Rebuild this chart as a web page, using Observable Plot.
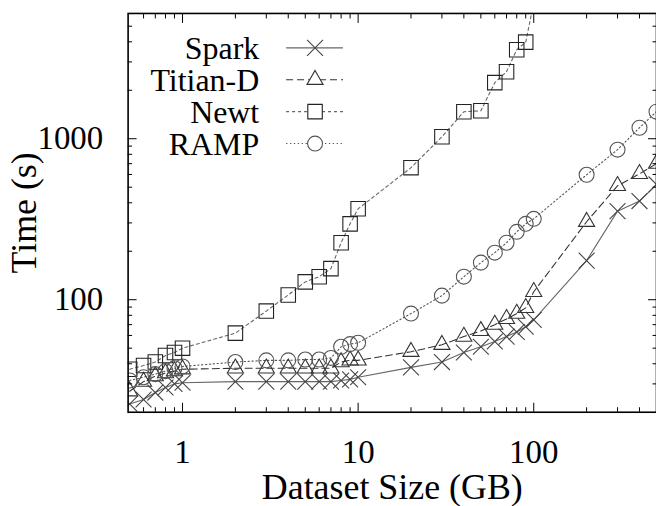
<!DOCTYPE html>
<html><head><meta charset="utf-8">
<script src="https://cdn.jsdelivr.net/npm/d3@7"></script>
<script src="https://cdn.jsdelivr.net/npm/@observablehq/plot@0.6"></script>
<style>
html,body{margin:0;padding:0;background:#fff;overflow:hidden;}
#chart{width:656px;height:506px;overflow:hidden;}
</style></head><body><div id="chart"></div>
<script>
// ---- data ----
const sizes = [0.5,0.6,0.7,0.8,0.9,1,2,3,4,5,6,7,8,9,10,20,30,40,50,60,70,80,90,100,200,300,400,500];
const spark = [22.5,24,26.5,28.5,30,30.5,31,31,31,31,31,31,31.5,32,33,38,41,47,51,55,59,63,68,75,175,355,410,520];
const titian = [27,31,33.5,35,36,37,37.5,37.5,37.5,37.5,37.5,37.5,41,42,42,47.5,52.5,59,64,70,76,82,89,112,305,510,605,700];
const newt = [37,39,41,45,47,50,62,85,107,129,139,156,226,296,367,661,1028,1471,1492,2230,2608,3570,3980,7000];
const ramp = [31.5,33,34.5,36,37.5,38.5,41,42,42,42.5,42.5,43.5,51,53,54,82,106,139,170,196,226,264,296,318,597,855,1170,1473];
const seriesNames = ["Spark","Titian-D","Newt","RAMP"];
const seriesValues = [spark, titian, newt, ramp];
const xMajor = [1,10,100];
const xTickLabels = ["1","10","100"];
const xMinor = [0.6,0.7,0.8,0.9,2,3,4,5,6,7,8,9,20,30,40,50,60,70,80,90,200,300,400];
const yMajor = [100,1000];
const yTickLabels = ["100","1000"];
const yMinor = [30,40,50,60,70,80,90,200,300,400,500,600,700,800,900,2000,3000,4000,5000];
const xTitle = "Dataset Size (GB)";
const yTitle = "Time (s)";

// ---- styles ----
const styles = {
  "Spark":    {symbol:"times",    r:7.3, mark:"#444", line:"#666", dash:null,      lw:1.1},
  "Titian-D": {symbol:"triangle", r:6.0, mark:"#333", line:"#333", dash:"7,4",     lw:1.1},
  "Newt":     {symbol:"square",   r:8.2, mark:"#222", line:"#666", dash:"3,3",     lw:1.1},
  "RAMP":     {symbol:"circle",   r:7.5, mark:"#555", line:"#555", dash:"1.3,2.6", lw:1.1}
};

const rows = [];
seriesNames.forEach((name, k) => {
  seriesValues[k].forEach((v, i) => rows.push({series: name, size: sizes[i], time: v}));
});

const M = {left:128, right:0, top:13, bottom:93};
const font = "'Liberation Serif','Times New Roman',serif";
const xLab = new Map(xMajor.map((v,i)=>[v,xTickLabels[i]]));
const yLab = new Map(yMajor.map((v,i)=>[v,yTickLabels[i]]));

function legend() {
  const g = d3.create("svg:g").attr("font-family", font).attr("font-size", 32);
  seriesNames.forEach((name, i) => {
    const st = styles[name];
    const cy = M.top + 35 + i * 32;
    g.append("text").attr("x", M.left + 132).attr("y", cy).attr("dy", "0.35em")
      .attr("text-anchor", "end").attr("fill", "black").text(name);
    g.append("line").attr("x1", M.left + 159).attr("x2", M.left + 216).attr("y1", cy).attr("y2", cy)
      .attr("stroke", st.line).attr("stroke-width", st.lw).attr("stroke-dasharray", st.dash);
    const symMap = {times: d3.symbolTimes, triangle: d3.symbolTriangle, square: d3.symbolSquare, circle: d3.symbolCircle};
    g.append("path").attr("transform", `translate(${M.left + 188},${cy})`)
      .attr("d", d3.symbol(symMap[st.symbol], Math.PI * st.r * st.r)())
      .attr("fill", "white").attr("stroke", st.mark).attr("stroke-width", 1.1);
  });
  return g.node();
}

const marks = [];
seriesNames.forEach(name => {
  const st = styles[name];
  const data = rows.filter(d => d.series === name);
  marks.push(Plot.line(data, {x:"size", y:"time", stroke: st.line, strokeWidth: st.lw, strokeDasharray: st.dash, clip: true}));
});
seriesNames.forEach(name => {
  const st = styles[name];
  const data = rows.filter(d => d.series === name);
  marks.push(Plot.dot(data, {x:"size", y:"time", symbol: st.symbol, r: st.r, stroke: st.mark, fill: "none", strokeWidth: 1.1, clip: true}));
});

const noText = () => "";
marks.push(
  Plot.axisX(xMajor, {anchor:"bottom", tickSize:-9, tickFormat:noText, label:null}),
  Plot.axisX(xMinor, {anchor:"bottom", tickSize:-4.5, tickFormat:noText, label:null}),
  Plot.axisX(xMajor, {anchor:"top", tickSize:-9, tickFormat:noText, label:null}),
  Plot.axisX(xMinor, {anchor:"top", tickSize:-4.5, tickFormat:noText, label:null}),
  Plot.axisY(yMajor, {anchor:"left", tickSize:-9, tickFormat:noText, label:null}),
  Plot.axisY(yMinor, {anchor:"left", tickSize:-4.5, tickFormat:noText, label:null}),
  Plot.axisY(yMajor, {anchor:"right", tickSize:-9, tickFormat:noText, label:null}),
  Plot.axisY(yMinor, {anchor:"right", tickSize:-4.5, tickFormat:noText, label:null}),
  Plot.axisX(xMajor, {anchor:"bottom", tickSize:0, tickPadding:27, tickFormat: d => xLab.get(d), label:null, fontSize:33}),
  Plot.axisY(yMajor, {anchor:"left", tickSize:0, tickPadding:25, tickFormat: d => yLab.get(d), label:null, fontSize:33}),
  Plot.text([xTitle], {frameAnchor:"bottom", dy:75, text: d => d, fontSize:36, fill:"black", textAnchor:"middle", lineAnchor:"middle"}),
  Plot.text([yTitle], {frameAnchor:"left", dx:-104, rotate:-90, text: d => d, fontSize:36, fill:"black", textAnchor:"middle", lineAnchor:"middle"}),
  Plot.frame({stroke:"black", strokeWidth:1.6}),
  legend
);

const chart = Plot.plot({
  width: 658, height: 506,
  marginLeft: M.left, marginRight: M.right, marginTop: M.top, marginBottom: M.bottom,
  style: {fontFamily: font, fontSize: "33px", background: "white", color: "black", overflow: "visible"},
  x: {type: "log", domain: [0.49, 500]},
  y: {type: "log", domain: [20, 6000]},
  marks
});
document.getElementById("chart").appendChild(chart);
</script>
</body></html>
